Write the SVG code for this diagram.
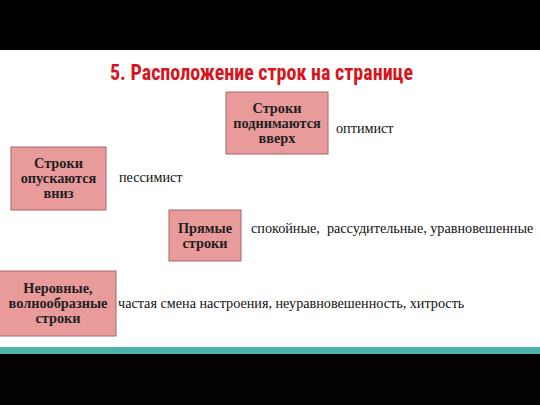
<svg xmlns="http://www.w3.org/2000/svg" width="540" height="405" viewBox="0 0 540 405">
<style>
.box{fill:#E99A9B;stroke:#A5686A;stroke-width:1}
.bt{font-family:"Liberation Serif","Times New Roman",serif;font-weight:bold;font-size:14.3px;fill:#1f1f1f;text-anchor:middle}
.lt{font-family:"Liberation Serif","Times New Roman",serif;font-size:14.2px;fill:#111}
.title{font-family:"Liberation Sans Narrow","Roboto Condensed","Liberation Sans",sans-serif;font-weight:bold;font-size:22px;fill:#D8141C;text-anchor:middle}
</style>
<rect x="0" y="0" width="540" height="405" fill="#fff"/>
<rect x="0" y="0" width="540" height="50" fill="#000"/>
<rect x="0" y="347" width="540" height="7" fill="#4DB3A8"/>
<rect x="0" y="354" width="540" height="51" fill="#020205"/>
<text class="title" x="261.5" y="80" textLength="303" lengthAdjust="spacingAndGlyphs">5. Расположение строк на странице</text>
<g id="node-up">
<rect class="box" x="226" y="92" width="102" height="62"/>
<text class="bt" x="277" y="113">Строки</text>
<text class="bt" x="277" y="128">поднимаются</text>
<text class="bt" x="277" y="143">вверх</text>
</g>
<g id="node-down">
<rect class="box" x="11" y="147" width="95" height="63"/>
<text class="bt" x="58.5" y="168">Строки</text>
<text class="bt" x="58.5" y="183">опускаются</text>
<text class="bt" x="58.5" y="198">вниз</text>
</g>
<g id="node-straight">
<rect class="box" x="169" y="210" width="72" height="51"/>
<text class="bt" x="205" y="233">Прямые</text>
<text class="bt" x="205" y="248">строки</text>
</g>
<g id="node-wavy">
<rect class="box" x="-1" y="271" width="117" height="65"/>
<text class="bt" x="58" y="293">Неровные,</text>
<text class="bt" x="58" y="308">волнообразные</text>
<text class="bt" x="58" y="323">строки</text>
</g>
<g id="labels">
<text class="lt" x="336" y="133">оптимист</text>
<text class="lt" x="119" y="182">пессимист</text>
<text class="lt" x="251" y="233" xml:space="preserve">спокойные,  рассудительные, уравновешенные</text>
<text class="lt" x="118" y="308">частая смена настроения, неуравновешенность, хитрость</text>
</g>
<g id="connectors"></g>
</svg>
